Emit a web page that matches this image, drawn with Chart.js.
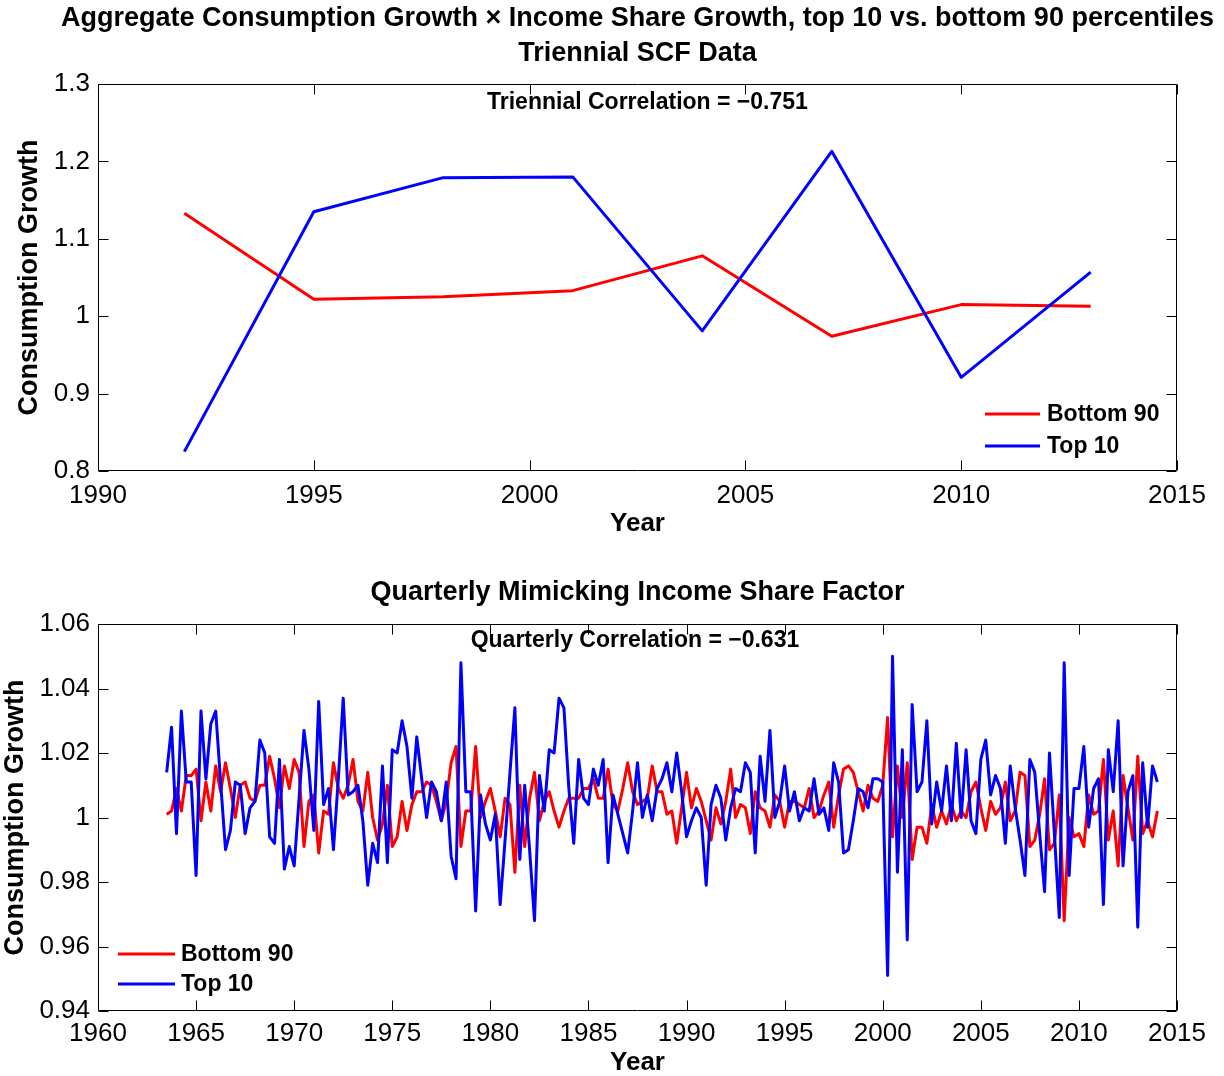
<!DOCTYPE html>
<html>
<head>
<meta charset="utf-8">
<title>Consumption Growth x Income Share Growth</title>
<script src="https://cdn.jsdelivr.net/npm/chart.js@4.4.1/dist/chart.umd.min.js"></script>
<style>
  html, body { margin: 0; padding: 0; background: #fff; }
  #wrap { position: relative; width: 1224px; height: 1076px; }
  #wrap canvas { position: absolute; left: 0; }
  #triChart { top: 0; }
  #qChart { top: 540px; }
</style>
</head>
<body>
<div id="wrap">
  <canvas id="triChart" width="1224" height="540"></canvas>
  <canvas id="qChart" width="1224" height="536"></canvas>
</div>
<script>
/* ===== data ===== */
var TRI_YEARS = [1992, 1995, 1998, 2001, 2004, 2007, 2010, 2013];
var TRI_BOTTOM90 = [1.133, 1.022, 1.025, 1.033, 1.078, 0.974, 1.015, 1.013];
var TRI_TOP10 = [0.825, 1.135, 1.179, 1.180, 0.981, 1.213, 0.921, 1.057];

var TRI_X_TICKS = [1990, 1995, 2000, 2005, 2010, 2015];
var TRI_Y_TICKS = [0.8, 0.9, 1, 1.1, 1.2, 1.3];

// quarterly, first quarter 1963.5
var Q_START = 1963.5;
var Q_BOTTOM90 = [
  1.001, 1.002, 1.009, 1.002, 1.013, 1.013, 1.015, 0.999, 1.011, 1.002, 1.016, 1.008, 1.017, 1.009, 1.000, 1.010,
  1.011, 1.006, 1.005, 1.010, 1.010, 1.019, 1.012, 1.003, 1.016, 1.009, 1.018, 1.014, 0.991, 1.005, 1.007, 0.989,
  1.002, 1.001, 1.017, 1.009, 1.006, 1.010, 1.018, 1.005, 1.002, 1.014, 1.000, 0.993, 0.998, 1.010, 0.991, 0.994,
  1.005, 0.996, 1.004, 1.008, 1.008, 1.011, 1.010, 1.005, 0.999, 1.005, 1.017, 1.022, 0.991, 1.002, 1.002, 1.022,
  1.000, 1.005, 1.009, 1.002, 0.994, 1.006, 1.004, 0.983, 1.010, 0.991, 1.006, 1.014, 0.999, 1.005, 1.008, 1.002,
  0.997, 1.002, 1.006, 1.006, 1.006, 1.009, 1.009, 1.012, 1.006, 1.006, 1.015, 1.004, 1.002, 1.009, 1.017, 1.008,
  1.004, 1.005, 1.006, 1.016, 1.008, 1.008, 1.001, 1.002, 0.992, 1.003, 1.014, 1.003, 1.009, 1.005, 0.999, 0.993,
  1.003, 0.998, 1.005, 1.015, 1.000, 1.004, 1.003, 0.995, 1.008, 1.003, 1.002, 0.997, 1.007, 1.005, 0.997, 1.005,
  1.005, 1.004, 1.003, 1.009, 1.000, 1.002, 1.007, 1.011, 0.997, 1.007, 1.015, 1.016, 1.014, 1.008, 1.002, 1.010,
  1.006, 1.005, 1.010, 1.031, 0.994, 1.016, 1.000, 1.017, 0.987, 0.997, 0.997, 0.992, 1.004, 0.997, 1.002, 0.998,
  1.004, 0.999, 1.002, 1.000, 1.008, 1.011, 1.003, 0.996, 1.005, 1.001, 1.003, 1.011, 0.999, 1.002, 1.014, 1.013,
  0.991, 0.993, 1.001, 1.012, 0.990, 0.992, 1.007, 0.968, 1.000, 0.994, 0.995, 0.991, 1.007, 1.001, 1.002, 1.018,
  0.993, 1.002, 0.985, 1.013, 1.003, 0.993, 1.019, 0.995, 0.999, 0.994, 1.002
];
var Q_TOP10 = [
  1.014, 1.028, 0.995, 1.033, 1.011, 1.011, 0.982, 1.033, 1.012, 1.029, 1.033, 1.011, 0.990, 0.996, 1.011, 1.010,
  0.995, 1.003, 1.005, 1.024, 1.020, 0.994, 0.992, 1.018, 0.984, 0.991, 0.985, 1.006, 1.027, 1.015, 0.996, 1.036,
  1.004, 1.009, 0.990, 1.012, 1.037, 1.007, 1.008, 1.010, 0.999, 0.979, 0.992, 0.986, 1.016, 0.986, 1.021, 1.020,
  1.030, 1.022, 1.006, 1.025, 1.012, 1.000, 1.011, 1.008, 0.999, 1.011, 0.988, 0.981, 1.048, 1.008, 1.008, 0.971,
  1.007, 0.998, 0.993, 1.001, 0.973, 0.993, 1.014, 1.034, 0.987, 1.010, 0.990, 0.968, 1.013, 1.002, 1.021, 1.020,
  1.037, 1.034, 1.009, 0.992, 1.018, 1.006, 1.004, 1.015, 1.010, 1.018, 0.986, 1.007, 1.001, 0.995, 0.989, 1.002,
  1.017, 1.000, 1.007, 0.999, 1.009, 1.012, 1.017, 1.008, 1.020, 1.008, 0.994, 0.999, 1.003, 1.000, 0.979, 1.004,
  1.010, 1.006, 0.993, 1.003, 1.009, 1.008, 1.017, 1.014, 0.989, 1.019, 1.005, 1.027, 1.000, 1.005, 1.016, 1.002,
  1.008, 0.999, 1.003, 1.002, 1.012, 1.001, 1.003, 0.996, 1.017, 1.011, 0.989, 0.990, 0.999, 1.009, 1.008, 1.003,
  1.012, 1.012, 1.011, 0.951, 1.050, 0.983, 1.021, 0.962, 1.035, 1.008, 1.011, 1.030, 0.998, 1.011, 1.002, 1.016,
  0.999, 1.023, 1.000, 1.021, 0.999, 0.995, 1.018, 1.024, 1.007, 1.013, 1.009, 0.992, 1.016, 1.003, 0.993, 0.982,
  1.018, 1.014, 0.995, 0.977, 1.020, 0.995, 0.969, 1.048, 0.982, 1.009, 1.009, 1.022, 0.997, 1.009, 1.012, 0.973,
  1.021, 1.008, 1.030, 0.985, 1.008, 1.013, 0.966, 1.017, 0.997, 1.016, 1.011
];

var Q_X_TICKS = [1960, 1965, 1970, 1975, 1980, 1985, 1990, 1995, 2000, 2005, 2010, 2015];
var Q_Y_TICKS = [0.94, 0.96, 0.98, 1, 1.02, 1.04, 1.06];

(function () {
  "use strict";
  var FONT = '"Liberation Sans", Arial, Helvetica, sans-serif';
  Chart.defaults.font.family = FONT;
  Chart.defaults.color = "#000";

  var RED = "#ff0000", BLUE = "#0000ff";

  function pts(xs, ys) { return ys.map(function (y, i) { return { x: xs[i], y: y }; }); }
  function fixTicks(list) { return function (s) { s.ticks = list.map(function (v) { return { value: v }; }); }; }

  // MATLAB style box, inward ticks, titles, note and in-plot legend
  var matlabAxes = {
    id: "matlabAxes",
    afterDraw: function (chart, args, o) {
      var ctx = chart.ctx, a = chart.chartArea, sx = chart.scales.x, sy = chart.scales.y;
      var L = Math.round(a.left) + 0.5, R = Math.round(a.right) - 0.5;
      var T = Math.round(a.top) + 0.5, B = Math.round(a.bottom) - 0.5;
      ctx.save();
      ctx.strokeStyle = "#000"; ctx.lineWidth = 1;
      ctx.beginPath();
      sx.ticks.forEach(function (t) {
        var p = Math.round(sx.getPixelForValue(t.value)) + 0.5;
        ctx.moveTo(p, B); ctx.lineTo(p, B - o.tick);
        ctx.moveTo(p, T); ctx.lineTo(p, T + o.tick);
      });
      sy.ticks.forEach(function (t) {
        var p = Math.round(sy.getPixelForValue(t.value)) + 0.5;
        ctx.moveTo(L, p); ctx.lineTo(L + o.tick, p);
        ctx.moveTo(R, p); ctx.lineTo(R - o.tick, p);
      });
      ctx.rect(L, T, R - L, B - T);
      ctx.stroke();

      ctx.fillStyle = "#000";
      ctx.textAlign = "center"; ctx.textBaseline = "middle";
      ctx.font = "bold " + o.titleSize + "px " + FONT;
      var cx = (a.left + a.right) / 2;
      o.title.forEach(function (line, i) { ctx.fillText(line, cx, o.titleY + i * o.titleGap); });

      ctx.font = "bold " + o.noteSize + "px " + FONT;
      ctx.fillText(o.note.text, sx.getPixelForValue(o.note.x), sy.getPixelForValue(o.note.y));

      ctx.textAlign = "left";
      chart.data.datasets.forEach(function (ds, i) {
        var y = o.legend.y + i * o.legend.gap;
        ctx.strokeStyle = ds.borderColor; ctx.lineWidth = ds.borderWidth;
        ctx.beginPath(); ctx.moveTo(o.legend.x0, y); ctx.lineTo(o.legend.x1, y); ctx.stroke();
        ctx.fillText(ds.label, o.legend.tx, y + 1);
      });
      ctx.restore();
    }
  };

  function lineSet(label, xs, ys, color, order) {
    return {
      label: label, data: pts(xs, ys), borderColor: color, backgroundColor: color,
      borderWidth: 3, pointRadius: 0, tension: 0, borderJoinStyle: "round", order: order
    };
  }

  function axes(o) {
    return {
      x: {
        type: "linear", min: o.xMin, max: o.xMax,
        afterBuildTicks: fixTicks(o.xTicks),
        afterFit: function (s) { s.height = o.xHeight; },
        grid: { display: false, drawTicks: false }, border: { display: false },
        ticks: { font: { size: 26 }, padding: o.xPad, maxRotation: 0, autoSkip: false, callback: function (v) { return String(v); } },
        title: { display: true, text: "Year", font: { size: 26, weight: "bold", lineHeight: 1 }, padding: { top: 0, bottom: o.xTitlePad } }
      },
      y: {
        type: "linear", min: o.yMin, max: o.yMax,
        afterBuildTicks: fixTicks(o.yTicks),
        afterFit: function (s) { s.width = 98; },
        grid: { display: false, drawTicks: false }, border: { display: false },
        ticks: { font: { size: 26 }, padding: 8, autoSkip: false, callback: function (v) { return String(v); } },
        title: { display: true, text: "Consumption Growth", font: { size: 27, weight: "bold", lineHeight: 1 }, padding: { top: o.yTitlePad, bottom: 0 } }
      }
    };
  }

  function baseOptions(scales, deco) {
    return {
      responsive: false, animation: false, devicePixelRatio: 1,
      layout: { padding: { top: 84, right: 47, left: 0, bottom: 0 } },
      plugins: { legend: { display: false }, tooltip: { enabled: false }, matlabAxes: deco },
      scales: scales
    };
  }

  // ① triennial SCF
  new Chart(document.getElementById("triChart"), {
    type: "line",
    data: { datasets: [
      lineSet("Bottom 90", TRI_YEARS, TRI_BOTTOM90, RED, 2),
      lineSet("Top 10", TRI_YEARS, TRI_TOP10, BLUE, 1)
    ] },
    options: baseOptions(
      axes({ xMin: 1990, xMax: 2015, xTicks: TRI_X_TICKS, yMin: 0.8, yMax: 1.3, yTicks: TRI_Y_TICKS,
             xHeight: 69, xPad: 9, xTitlePad: 3, yTitlePad: 16.5 }),
      { tick: 10, titleSize: 27, titleY: 19, titleGap: 35,
        title: ["Aggregate Consumption Growth \u00d7 Income Share Growth, top 10 vs. bottom 90 percentiles", "Triennial SCF Data"],
        noteSize: 23, note: { text: "Triennial Correlation = \u22120.751", x: 2002.73, y: 1.2764 },
        legend: { x0: 985, x1: 1040, tx: 1047, y: 414, gap: 32 } }
    ),
    plugins: [matlabAxes]
  });

  // ② quarterly mimicking factor
  var qYears = Q_BOTTOM90.map(function (v, i) { return Q_START + i / 4; });
  new Chart(document.getElementById("qChart"), {
    type: "line",
    data: { datasets: [
      lineSet("Bottom 90", qYears, Q_BOTTOM90, RED, 2),
      lineSet("Top 10", qYears, Q_TOP10, BLUE, 1)
    ] },
    options: baseOptions(
      axes({ xMin: 1960, xMax: 2015, xTicks: Q_X_TICKS, yMin: 0.94, yMax: 1.06, yTicks: Q_Y_TICKS,
             xHeight: 65, xPad: 7, xTitlePad: 0, yTitlePad: 2.5 }),
      { tick: 10, titleSize: 27, titleY: 53, titleGap: 34,
        title: ["Quarterly Mimicking Income Share Factor"],
        noteSize: 23, note: { text: "Quarterly Correlation = \u22120.631", x: 1987.37, y: 1.0547 },
        legend: { x0: 118, x1: 175, tx: 181, y: 414, gap: 30 } }
    ),
    plugins: [matlabAxes]
  });
})();
</script>
</body>
</html>
